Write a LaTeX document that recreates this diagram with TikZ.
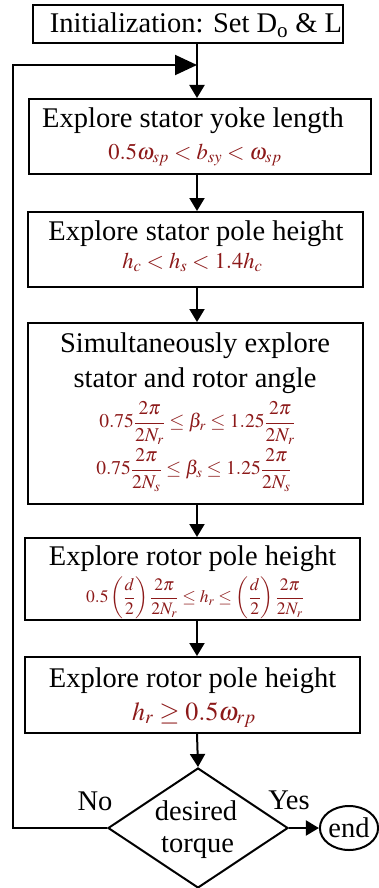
\documentclass[tikz,border=0pt]{standalone}
\usepackage{amsmath}
\usepackage{mathptmx}
\usepackage[no-math]{fontspec}
\setmainfont{Liberation Serif}
\usetikzlibrary{shapes.geometric,arrows.meta}
\definecolor{eqred}{RGB}{140,25,25}
\tikzset{
  box/.style={draw, line width=2pt, inner sep=0pt, rectangle},
  ttl/.style={font=\fontsize{28.5}{31}\selectfont, inner sep=0pt, anchor=base},
  eqA/.style={text=eqred, inner sep=0pt, anchor=base, font=\fontsize{22.5}{25}\selectfont},
  eqB/.style={text=eqred, inner sep=0pt, anchor=center, font=\fontsize{18.5}{21}\selectfont},
  flow/.style={line width=2pt, -{Triangle[length=13pt,width=15pt]}},
  fbflow/.style={line width=2pt, -{Triangle[length=22pt,width=20pt]}},
}
\begin{document}
\begin{tikzpicture}[x=1pt,y=-1pt]
\useasboundingbox (0,0) rectangle (378,888);
\coordinate (col) at (197,0);
\coordinate (join) at (197,65);
\coordinate (fb) at (13,0);

\node[box, minimum width=310pt, minimum height=38pt] (init) at (188,24) {};
\node[box, minimum width=342pt, minimum height=75pt] (b1) at (200,136.5) {};
\node[box, minimum width=335pt, minimum height=75pt] (b2) at (195.5,249.5) {};
\node[box, minimum width=335pt, minimum height=181pt] (b3) at (195.5,413.5) {};
\node[box, minimum width=335pt, minimum height=82pt] (b4) at (192.5,579) {};
\node[box, minimum width=335pt, minimum height=76pt] (b5) at (192.5,695) {};
\node[draw, line width=2pt, diamond, minimum width=180pt, minimum height=120pt, inner sep=0pt] (dia) at (198,828) {};
\node[draw, line width=2pt, ellipse, minimum width=58pt, minimum height=44pt, inner sep=0pt, font=\fontsize{28.5}{31}\selectfont] (end) at (349,828) {end};

\node[ttl] (t0) at (196,33) {Initialization: Set D\textsubscript{o} \& L};
\node[ttl] (t1) at (193,128) {Explore stator yoke length};
\node[eqA] (e1) at (195,159.5) {$0.5\omega_{sp} < b_{sy} < \omega_{sp}$};
\node[ttl] (t2) at (196,240) {Explore stator pole height};
\node[eqA] (e2) at (192.5,268.5) {$h_c < h_s < 1.4h_c$};
\node[ttl] (t3a) at (195,352) {Simultaneously explore};
\node[ttl] (t3b) at (195,387) {stator and rotor angle};
\node[eqB, font=\fontsize{19.5}{22}\selectfont] (e3a) at (197.5,423) {$0.75\dfrac{2\pi}{2N_r} \le \beta_r \le 1.25\dfrac{2\pi}{2N_r}$};
\node[eqB, font=\fontsize{19.5}{22}\selectfont] (e3b) at (194,470) {$0.75\dfrac{2\pi}{2N_s} \le \beta_s \le 1.25\dfrac{2\pi}{2N_s}$};
\node[ttl] (t4) at (192.5,565) {Explore rotor pole height};
\node[eqB, font=\fontsize{17.5}{20}\selectfont] (e4) at (195,598) {$0.5\left(\dfrac{d}{2}\right)\dfrac{2\pi}{2N_r} \le h_r \le \left(\dfrac{d}{2}\right)\dfrac{2\pi}{2N_r}$};
\node[ttl] (t5) at (192.5,687) {Explore rotor pole height};
\node[eqA, font=\fontsize{26}{29}\selectfont] (e5) at (194,720) {$h_r \ge 0.5\omega_{rp}$};
\node[ttl] (d1) at (196,820) {desired};
\node[ttl] (d2) at (197.5,852) {torque};
\node[ttl] (no) at (95,810) {No};
\node[ttl] (yes) at (289,809) {Yes};

\draw[flow] (init.south -| col) -- (b1.north -| col);
\draw[flow] (b1.south -| col) -- (b2.north -| col);
\draw[flow] (b2.south -| col) -- (b3.north -| col);
\draw[flow] (b3.south -| col) -- (b4.north -| col);
\draw[flow] (b4.south -| col) -- (b5.north -| col);
\draw[flow] (b5.south -| col) -- (dia.north);
\draw[flow] (dia.east) -- (end.west);
\draw[fbflow] (dia.west) -| (fb |- join) -- (join);
\end{tikzpicture}
\end{document}
